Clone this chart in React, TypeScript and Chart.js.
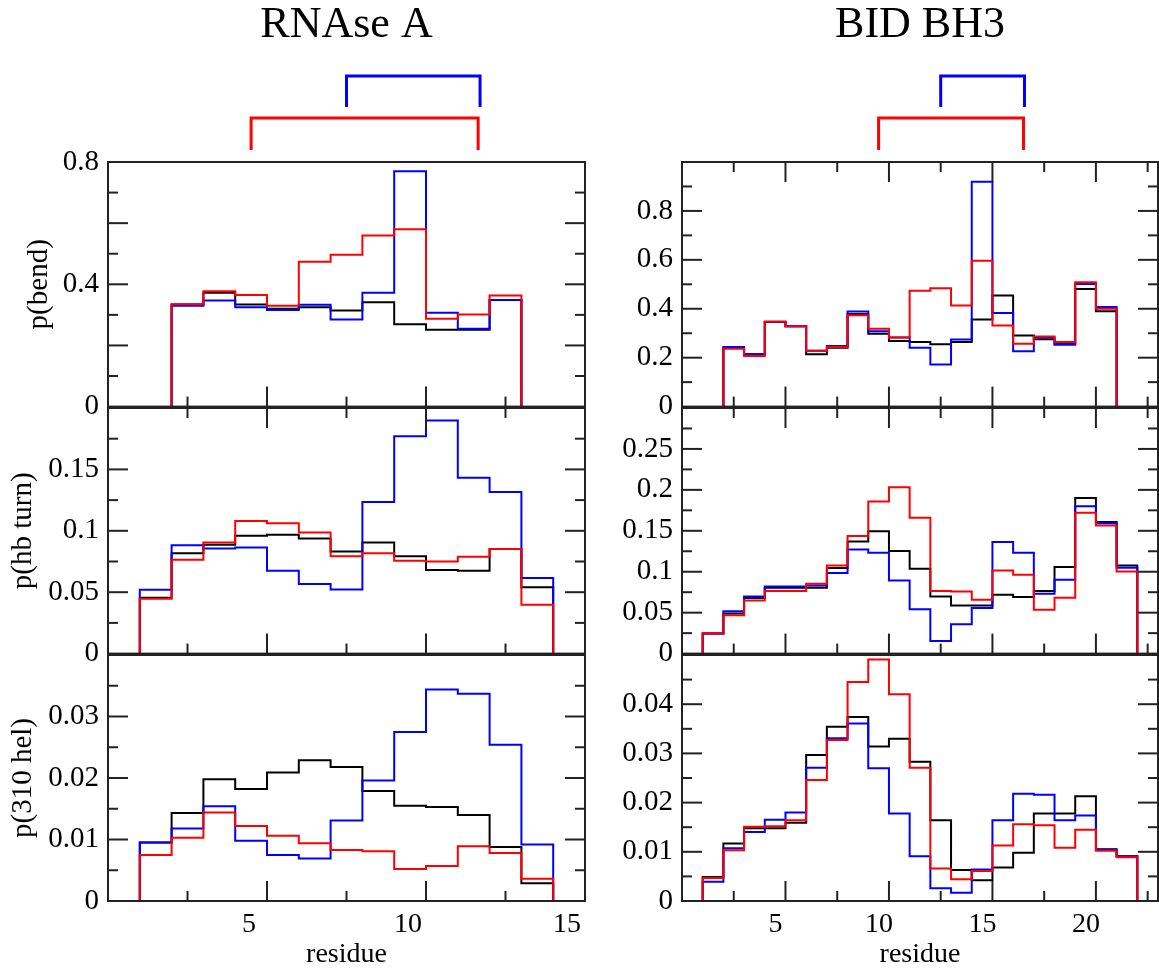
import React, { useEffect, useRef } from "react";
import { Chart, registerables } from "chart.js";

Chart.register(...registerables);

// ---------------- DATA ----------------
// Each histogram bin i spans [start + i, start + i + 1] (residue number).
const RNASE_BEND_START = 2;
const rnaseBendBlack = [0.334, 0.372, 0.334, 0.320, 0.325, 0.314, 0.341, 0.269, 0.251, 0.251, 0.349];
const rnaseBendBlue = [0.330, 0.347, 0.325, 0.316, 0.333, 0.285, 0.372, 0.770, 0.307, 0.255, 0.349];
const rnaseBendRed = [0.335, 0.377, 0.365, 0.330, 0.474, 0.497, 0.560, 0.580, 0.287, 0.301, 0.363];

const RNASE_HB_START = 1;
const rnaseHbBlack = [0.0454, 0.0818, 0.0886, 0.0959, 0.0967, 0.0937, 0.0832, 0.0905, 0.0792, 0.0681, 0.0675, 0.0851, 0.054];
const rnaseHbBlue = [0.0519, 0.0883, 0.0856, 0.0864, 0.0675, 0.0567, 0.0521, 0.1234, 0.1769, 0.1899, 0.1432, 0.1315, 0.0616];
const rnaseHbRed = [0.0446, 0.0764, 0.0905, 0.108, 0.1062, 0.0986, 0.0792, 0.0818, 0.0756, 0.0751, 0.0788, 0.0851, 0.0397];

const RNASE_310_START = 1;
const rnase310Black = [0.0095, 0.0143, 0.0198, 0.0182, 0.0209, 0.0229, 0.0218, 0.0179, 0.0155, 0.0153, 0.014, 0.0088, 0.0029];
const rnase310Blue = [0.0095, 0.0118, 0.0154, 0.0098, 0.0075, 0.0069, 0.0131, 0.0196, 0.0275, 0.0344, 0.0337, 0.0254, 0.0092];
const rnase310Red = [0.0075, 0.0103, 0.0144, 0.0122, 0.0106, 0.0094, 0.0083, 0.0081, 0.0052, 0.0057, 0.0089, 0.0078, 0.0036];

const BID_BEND_START = 2;
const bidBendBlack = [0.240, 0.214, 0.346, 0.328, 0.214, 0.241, 0.379, 0.298, 0.268, 0.264, 0.255, 0.264, 0.356, 0.454, 0.291, 0.275, 0.257, 0.481, 0.390];
const bidBendBlue = [0.244, 0.214, 0.346, 0.328, 0.228, 0.248, 0.389, 0.308, 0.282, 0.241, 0.172, 0.274, 0.919, 0.383, 0.226, 0.282, 0.253, 0.501, 0.407];
const bidBendRed = [0.237, 0.207, 0.348, 0.328, 0.228, 0.244, 0.373, 0.318, 0.282, 0.474, 0.484, 0.413, 0.596, 0.332, 0.257, 0.287, 0.264, 0.508, 0.400];

const BID_HB_START = 1;
const bidHbBlack = [0.0244, 0.049, 0.0679, 0.0805, 0.0805, 0.0805, 0.1045, 0.137, 0.1496, 0.1252, 0.1037, 0.0699, 0.0589, 0.0589, 0.072, 0.0691, 0.0764, 0.1057, 0.1902, 0.1606, 0.1077];
const bidHbBlue = [0.0244, 0.0516, 0.0699, 0.0821, 0.0821, 0.0833, 0.0984, 0.1272, 0.1232, 0.0894, 0.0541, 0.0154, 0.0358, 0.0557, 0.1362, 0.1232, 0.0732, 0.0902, 0.1801, 0.1593, 0.1049];
const bidHbRed = [0.0244, 0.0467, 0.065, 0.0764, 0.0764, 0.0854, 0.1077, 0.1435, 0.1858, 0.2033, 0.1659, 0.0764, 0.076, 0.0659, 0.1016, 0.0963, 0.0537, 0.0683, 0.172, 0.1565, 0.1004];

const BID_310_START = 1;
const bid310Black = [0.0049, 0.0117, 0.0148, 0.0148, 0.0159, 0.0297, 0.0354, 0.0374, 0.0314, 0.033, 0.0283, 0.0164, 0.0063, 0.0042, 0.0068, 0.0098, 0.0178, 0.0178, 0.0213, 0.0105, 0.0091];
const bid310Blue = [0.0039, 0.0107, 0.014, 0.0165, 0.018, 0.0271, 0.0331, 0.0361, 0.027, 0.0178, 0.0091, 0.0026, 0.0017, 0.0064, 0.0164, 0.0218, 0.0216, 0.0164, 0.0174, 0.0104, 0.0091];
const bid310Red = [0.0047, 0.0103, 0.0151, 0.0152, 0.0164, 0.0246, 0.0327, 0.0445, 0.0491, 0.042, 0.0271, 0.0066, 0.0044, 0.0061, 0.0113, 0.0156, 0.0154, 0.0108, 0.0145, 0.0102, 0.0089];

// Axis ranges / ticks
const RNASE_X_MAX = 15;
const BID_X_MAX = 23;
const rnaseXLabels = [5, 10, 15];
const rnaseXMajor = [5, 10];
const rnaseXMinor = [2.5, 7.5, 12.5];
const bidXLabels = [5, 10, 15, 20];
const bidXMajor = [5, 10, 15, 20];
const bidXMinor = [2.5, 7.5, 12.5, 17.5, 22.5];

const bendLeftLabels = [0, 0.4, 0.8];
const bendLeftMajor = [0.2, 0.4, 0.6];
const bendLeftMinor = [0.1, 0.3, 0.5, 0.7];
const hbLeftLabels = [0, 0.05, 0.1, 0.15];
const hbLeftMajor = [0.05, 0.1, 0.15];
const hbLeftMinor = [0.025, 0.075, 0.125, 0.175];
const h310LeftLabels = [0, 0.01, 0.02, 0.03];
const h310LeftMajor = [0.01, 0.02, 0.03];
const h310LeftMinor = [0.005, 0.015, 0.025, 0.035];

const bendRightLabels = [0, 0.2, 0.4, 0.6, 0.8];
const bendRightMajor = [0.2, 0.4, 0.6, 0.8];
const bendRightMinor = [0.1, 0.3, 0.5, 0.7, 0.9];
const hbRightLabels = [0, 0.05, 0.1, 0.15, 0.2, 0.25];
const hbRightMajor = [0.05, 0.1, 0.15, 0.2, 0.25];
const hbRightMinor = [0.025, 0.075, 0.125, 0.175, 0.225, 0.275];
const h310RightLabels = [0, 0.01, 0.02, 0.03, 0.04];
const h310RightMajor = [0.01, 0.02, 0.03, 0.04];
const h310RightMinor = [0.005, 0.015, 0.025, 0.035, 0.045];

// Residue ranges marked by brackets above each column
const rnaseRedBracket = [4.5, 11.64];
const rnaseBlueBracket = [7.5, 11.7];
const bidRedBracket = [9.5, 16.5];
const bidBlueBracket = [12.5, 16.55];

// ---------------- STYLE ----------------
const FONT = "'Liberation Serif', 'Times New Roman', Times, serif";
Chart.defaults.font.family = FONT;
Chart.defaults.color = "#000";
const FRAME = "#222";
const RED = "#ff0000";
const BLUE = "#0000ff";
const BLACK = "#000000";
const MAJOR_LEN = 20;
const MINOR_LEN = 10;

type Bracket = { range: number[]; color: string; rise: number; leg: number };

type PanelSpec = {
  start: number;
  black: number[];
  blue: number[];
  red: number[];
  xMax: number;
  xLabels: number[];
  xMajor: number[];
  xMinor: number[];
  labelOffset: number;
  showX: boolean;
  topTicks: boolean;
  yMax: number;
  yLabels: number[];
  yMajor: number[];
  yMinor: number[];
  yTitle?: string;
  yTitlePad?: number;
  title?: string;
  brackets?: Bracket[];
  left: number;
  top: number;
  width: number;
  height: number;
  axisWidth: number;
  padTop: number;
  padRight: number;
  padBottom: number;
  xAxisHeight: number;
};

function stepPoints(start: number, values: number[]) {
  const pts: { x: number; y: number }[] = [{ x: start, y: 0 }];
  values.forEach((v, i) => pts.push({ x: start + i, y: v }));
  pts.push({ x: start + values.length, y: 0 });
  return pts;
}

function makeDecor(spec: PanelSpec) {
  return {
    id: "decor",
    afterDraw(chart: any) {
      const { ctx, chartArea: a, scales } = chart;
      const xs = scales.x;
      const ys = scales.y;
      ctx.save();
      ctx.strokeStyle = FRAME;
      ctx.lineWidth = 2;
      ctx.lineCap = "butt";
      const seg = (x1: number, y1: number, x2: number, y2: number) => {
        ctx.beginPath();
        ctx.moveTo(x1, y1);
        ctx.lineTo(x2, y2);
        ctx.stroke();
      };
      const xSets: [number[], number][] = [
        [spec.xMajor, MAJOR_LEN],
        [spec.xMinor, MINOR_LEN],
      ];
      xSets.forEach(([vals, len]) => {
        vals.forEach((v) => {
          const px = xs.getPixelForValue(v);
          seg(px, a.bottom, px, a.bottom - len);
          if (spec.topTicks) seg(px, a.top, px, a.top + len);
        });
      });
      const ySets: [number[], number][] = [
        [spec.yMajor, MAJOR_LEN],
        [spec.yMinor, MINOR_LEN],
      ];
      ySets.forEach(([vals, len]) => {
        vals.forEach((v) => {
          const py = ys.getPixelForValue(v);
          seg(a.left, py, a.left + len, py);
          seg(a.right, py, a.right - len, py);
        });
      });
      ctx.strokeRect(a.left, a.top, a.right - a.left, a.bottom - a.top);

      (spec.brackets || []).forEach((b) => {
        const x1 = xs.getPixelForValue(b.range[0]);
        const x2 = xs.getPixelForValue(b.range[1]);
        const yTop = a.top - b.rise;
        const yLeg = a.top - b.leg;
        ctx.strokeStyle = b.color;
        ctx.lineWidth = 3;
        ctx.lineJoin = "miter";
        ctx.beginPath();
        ctx.moveTo(x1, yLeg);
        ctx.lineTo(x1, yTop);
        ctx.lineTo(x2, yTop);
        ctx.lineTo(x2, yLeg);
        ctx.stroke();
      });
      ctx.restore();
    },
  };
}

function buildConfig(spec: PanelSpec): any {
  const ds = (label: string, color: string, values: number[]) => ({
    label,
    data: stepPoints(spec.start, values),
    borderColor: color,
    backgroundColor: color,
    borderWidth: 2,
    pointRadius: 0,
    stepped: "before",
    tension: 0,
    fill: false,
  });
  return {
    type: "line",
    data: {
      datasets: [ds("red", RED, spec.red), ds("blue", BLUE, spec.blue), ds("black", BLACK, spec.black)],
    },
    options: {
      animation: false,
      responsive: false,
      devicePixelRatio: 1,
      events: [],
      layout: {
        padding: { top: spec.padTop, right: spec.padRight, bottom: spec.padBottom, left: 0 },
      },
      plugins: {
        legend: { display: false },
        tooltip: { enabled: false },
        title: {
          display: !!spec.title,
          text: spec.title || "",
          color: "#000",
          fullSize: false,
          font: { family: FONT, size: 44, weight: "normal", lineHeight: 1 },
          padding: { top: 3, bottom: 115 },
        },
      },
      scales: {
        x: {
          type: "linear",
          min: 0,
          max: spec.xMax,
          display: spec.showX,
          grid: { display: false, drawTicks: false },
          border: { display: false },
          afterBuildTicks: (scale: any) => {
            scale.ticks = spec.xLabels.map((v) => ({ value: v }));
          },
          afterFit: (scale: any) => {
            scale.height = spec.xAxisHeight;
          },
          ticks: {
            color: "#000",
            font: { family: FONT, size: 28, weight: "normal" },
            padding: 7,
            labelOffset: spec.labelOffset,
            autoSkip: false,
            maxRotation: 0,
            minRotation: 0,
            callback: (v: any) => String(v),
          },
          title: {
            display: true,
            text: "residue",
            color: "#000",
            font: { family: FONT, size: 28, lineHeight: 1 },
            padding: { top: 0, bottom: 1 },
          },
        },
        y: {
          type: "linear",
          min: 0,
          max: spec.yMax,
          grid: { display: false, drawTicks: false },
          border: { display: false },
          afterBuildTicks: (scale: any) => {
            scale.ticks = spec.yLabels.map((v) => ({ value: v }));
          },
          afterFit: (scale: any) => {
            scale.width = spec.axisWidth;
          },
          ticks: {
            color: "#000",
            font: { family: FONT, size: 29, weight: "normal" },
            padding: 9,
            autoSkip: false,
            callback: (v: any) => String(v),
          },
          title: {
            display: !!spec.yTitle,
            text: spec.yTitle || "",
            color: "#000",
            font: { family: FONT, size: 29, lineHeight: 1 },
            padding: { top: spec.yTitlePad || 0, bottom: 0 },
          },
        },
      },
    },
    plugins: [makeDecor(spec)],
  };
}

// ---------------- LAYOUT ----------------
const LEFT_COL = { left: 0, width: 612, axisWidth: 108, padRight: 27, xMax: RNASE_X_MAX, labelOffset: -18 };
const RIGHT_COL = { left: 612, width: 547, axisWidth: 70, padRight: 1, xMax: BID_X_MAX, labelOffset: -10 };
const ROW_TOP = { top: 0, height: 433, padTop: 0, padBottom: 25, xAxisHeight: 0, showX: false };
const ROW_MID = { top: 378, height: 302, padTop: 30, padBottom: 25, xAxisHeight: 0, showX: false };
const ROW_BOT = { top: 625, height: 345, padTop: 30, padBottom: 0, xAxisHeight: 69, showX: true };

const panels: PanelSpec[] = [
  {
    ...LEFT_COL, ...ROW_TOP,
    start: RNASE_BEND_START, black: rnaseBendBlack, blue: rnaseBendBlue, red: rnaseBendRed,
    xLabels: rnaseXLabels, xMajor: rnaseXMajor, xMinor: rnaseXMinor, topTicks: false,
    yMax: 0.8, yLabels: bendLeftLabels, yMajor: bendLeftMajor, yMinor: bendLeftMinor,
    yTitle: "p(bend)", yTitlePad: 25, title: "RNAse A",
    brackets: [
      { range: rnaseBlueBracket, color: BLUE, rise: 86, leg: 55 },
      { range: rnaseRedBracket, color: RED, rise: 44, leg: 12 },
    ],
  },
  {
    ...LEFT_COL, ...ROW_MID,
    start: RNASE_HB_START, black: rnaseHbBlack, blue: rnaseHbBlue, red: rnaseHbRed,
    xLabels: rnaseXLabels, xMajor: rnaseXMajor, xMinor: rnaseXMinor, topTicks: true,
    yMax: 0.2, yLabels: hbLeftLabels, yMajor: hbLeftMajor, yMinor: hbLeftMinor,
    yTitle: "p(hb turn)", yTitlePad: 9,
  },
  {
    ...LEFT_COL, ...ROW_BOT,
    start: RNASE_310_START, black: rnase310Black, blue: rnase310Blue, red: rnase310Red,
    xLabels: rnaseXLabels, xMajor: rnaseXMajor, xMinor: rnaseXMinor, topTicks: false,
    yMax: 0.04, yLabels: h310LeftLabels, yMajor: h310LeftMajor, yMinor: h310LeftMinor,
    yTitle: "p(310 hel)", yTitlePad: 9,
  },
  {
    ...RIGHT_COL, ...ROW_TOP,
    start: BID_BEND_START, black: bidBendBlack, blue: bidBendBlue, red: bidBendRed,
    xLabels: bidXLabels, xMajor: bidXMajor, xMinor: bidXMinor, topTicks: true,
    yMax: 1.0, yLabels: bendRightLabels, yMajor: bendRightMajor, yMinor: bendRightMinor,
    title: "BID BH3",
    brackets: [
      { range: bidBlueBracket, color: BLUE, rise: 86, leg: 55 },
      { range: bidRedBracket, color: RED, rise: 44, leg: 12 },
    ],
  },
  {
    ...RIGHT_COL, ...ROW_MID,
    start: BID_HB_START, black: bidHbBlack, blue: bidHbBlue, red: bidHbRed,
    xLabels: bidXLabels, xMajor: bidXMajor, xMinor: bidXMinor, topTicks: true,
    yMax: 0.3, yLabels: hbRightLabels, yMajor: hbRightMajor, yMinor: hbRightMinor,
  },
  {
    ...RIGHT_COL, ...ROW_BOT,
    start: BID_310_START, black: bid310Black, blue: bid310Blue, red: bid310Red,
    xLabels: bidXLabels, xMajor: bidXMajor, xMinor: bidXMinor, topTicks: false,
    yMax: 0.05, yLabels: h310RightLabels, yMajor: h310RightMajor, yMinor: h310RightMinor,
  },
];

function Panel({ spec }: { spec: PanelSpec }) {
  const ref = useRef<HTMLCanvasElement>(null);
  useEffect(() => {
    if (!ref.current) return;
    const chart = new Chart(ref.current, buildConfig(spec));
    return () => chart.destroy();
  }, [spec]);
  return (
    <canvas
      ref={ref}
      width={spec.width}
      height={spec.height}
      style={{
        position: "absolute",
        left: spec.left,
        top: spec.top,
        width: spec.width,
        height: spec.height,
        display: "block",
      }}
    />
  );
}

export default function App() {
  return (
    <div
      style={{
        position: "absolute",
        left: 0,
        top: 0,
        width: 1159,
        height: 970,
        overflow: "hidden",
        background: "#fff",
      }}
    >
      {panels.map((p, i) => (
        <Panel key={i} spec={p} />
      ))}
    </div>
  );
}
